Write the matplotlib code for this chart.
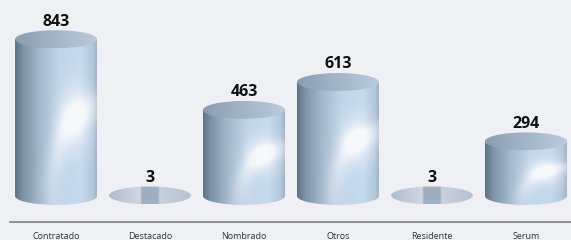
import numpy as np
import matplotlib
matplotlib.use('Agg')
from matplotlib import pyplot as plt
from matplotlib.path import Path
from matplotlib.patches import Ellipse, PathPatch
from matplotlib.colors import to_rgb

# 数据
categories = ['Contratado', 'Destacado', 'Nombrado', 'Otros', 'Residente', 'Serum']
values = [843, 3, 463, 613, 3, 294]

bg = '#eef0f3'

plt.rcParams['font.family'] = ['Open Sans', 'DejaVu Sans']
fig = plt.figure(figsize=(5.71, 2.4), dpi=100, facecolor=bg)
ax = fig.add_axes([0, 0, 1, 1])
ax.set_facecolor(bg)
ax.axis('off')

hw = 0.436   # 圆柱半宽
eh = 48      # 椭圆半高(数据单位)


def profile(stops, nx):
    t = np.linspace(0, 1, nx)
    pos = [s[0] for s in stops]
    cols = np.array([to_rgb(s[1]) for s in stops])
    return np.stack([np.interp(t, pos, cols[:, k]) for k in range(3)], axis=-1)


body_stops = [(0.0, '#5f7386'), (0.1, '#7f93a6'), (0.3, '#a3b8cb'),
              (0.55, '#c0d5e8'), (0.8, '#c6daee'), (0.95, '#b4c8db'), (1.0, '#9fb3c6')]
top_stops = [(0.0, '#8a9eb1'), (0.5, '#a3b6c8'), (1.0, '#b9cada')]
flat_stops = [(0.0, '#aebdca'), (0.38, '#cfd8e1'), (0.4, '#9eafbf'), (0.6, '#9eafbf'),
              (0.62, '#c8d2dc'), (1.0, '#b4c2cf')]


def body_image(nx=160, ny=240):
    row = profile(body_stops, nx)
    img = np.repeat(row[None, :, :], ny, axis=0)
    xx, yy = np.meshgrid(np.linspace(0, 1, nx), np.linspace(0, 1, ny))
    glow = np.exp(-(((xx - 0.74) / 0.2) ** 2 + ((yy - 0.47) / 0.18) ** 2))
    r = np.hypot(xx - 1.1, yy - 1.0)
    arc = np.exp(-((r - 0.66) / 0.11) ** 2) * np.clip(1.1 - (yy - 0.4) * 1.2, 0, 1)
    arc *= np.clip((yy - 0.28) / 0.2, 0, 1)
    w = np.clip(glow * 0.7 + arc * 0.55, 0, 0.85)[..., None]
    return img * (1 - w) + w


img_body = body_image()
img_top = np.repeat(profile(top_stops, 160)[None, :, :], 20, axis=0)
img_flat = np.repeat(profile(flat_stops, 160)[None, :, :], 20, axis=0)

for i, v in enumerate(values):
    x = i
    if v > 20:
        th = np.linspace(0, -np.pi, 60)
        verts = [(x - hw, v), (x + hw, v)] + \
                [(x + hw * np.cos(t), eh * np.sin(t)) for t in th] + [(x - hw, v)]
        clip = PathPatch(Path(verts), fc='none', ec='none')
        ax.add_patch(clip)
        im = ax.imshow(img_body, extent=[x - hw, x + hw, -eh, v], aspect='auto',
                       interpolation='bilinear', zorder=2)
        im.set_clip_path(clip)
        top = Ellipse((x, v), 2 * hw, 2 * eh, fc='none', ec='none')
        ax.add_patch(top)
        im2 = ax.imshow(img_top, extent=[x - hw, x + hw, v - eh, v + eh], aspect='auto',
                        interpolation='bilinear', zorder=3)
        im2.set_clip_path(top)
    else:
        ell = Ellipse((x, v), 2 * hw, 2 * eh, fc='none', ec='none')
        ax.add_patch(ell)
        im = ax.imshow(img_flat, extent=[x - hw, x + hw, v - eh, v + eh], aspect='auto',
                       interpolation='bilinear', zorder=2)
        im.set_clip_path(ell)
    ax.text(x, v + eh + 4, str(v), ha='center', va='bottom', fontsize=11.5,
            fontweight='bold', color='#111111', zorder=4)

# 坐标轴线和类别标签
ax.plot([-0.49, 5.479], [-140, -140], color='#7f7f7f', lw=1.2, zorder=1)
for i, c in enumerate(categories):
    ax.text(i, -218, c, ha='center', va='center', fontsize=6.5, color='#333333')

ax.set_xlim(-0.596, 5.479)
ax.set_ylim(-236.6, 1053.8)
fig.savefig('out.png', dpi=100, facecolor=bg)
